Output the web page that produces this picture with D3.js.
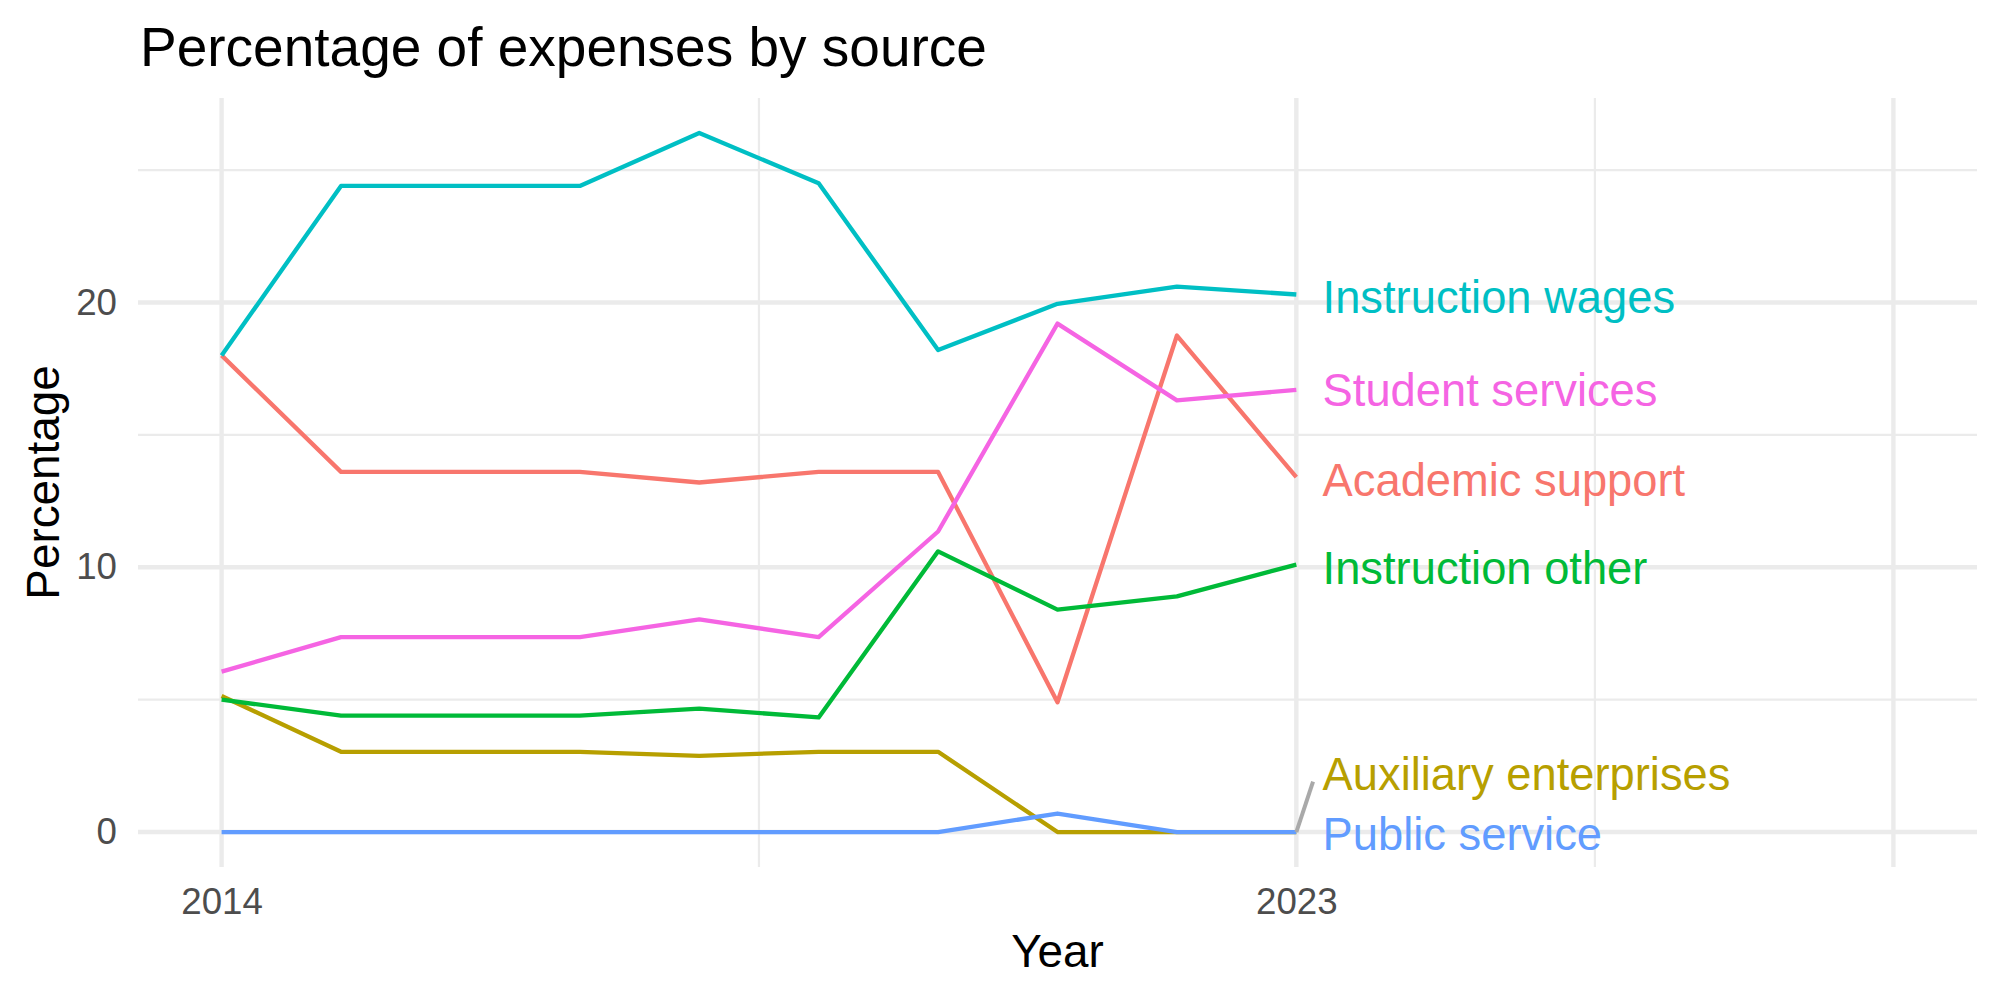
<!DOCTYPE html>
<html>
<head>
<meta charset="utf-8">
<script src="https://cdn.jsdelivr.net/npm/d3@7"></script>
<style>
  body { margin: 0; background: #fff; }
  svg text { font-family: "Liberation Sans", Arial, sans-serif; }
</style>
</head>
<body>
<svg id="chart" width="2000" height="1000"></svg>
<script>
const years = [2014, 2015, 2016, 2017, 2018, 2019, 2020, 2021, 2022, 2023]

const academicSupport = [18.0, 13.6, 13.6, 13.6, 13.2, 13.6, 13.6, 4.9, 18.75, 13.4]
const auxiliaryEnterprises = [5.14, 3.03, 3.03, 3.03, 2.88, 3.03, 3.03, 0, 0, 0]
const instructionOther = [5.0, 4.4, 4.4, 4.4, 4.66, 4.33, 10.6, 8.4, 8.9, 10.1]
const instructionWages = [18.0, 24.4, 24.4, 24.4, 26.4, 24.5, 18.2, 19.95, 20.6, 20.3]
const publicService = [0, 0, 0, 0, 0, 0, 0, 0.7, 0, 0]
const studentServices = [6.06, 7.36, 7.36, 7.36, 8.03, 7.36, 11.35, 19.2, 16.3, 16.7]

const seriesNames = ['Academic support', 'Auxiliary enterprises', 'Instruction other',
  'Instruction wages', 'Public service', 'Student services']
const seriesValues = [academicSupport, auxiliaryEnterprises, instructionOther,
  instructionWages, publicService, studentServices]
// where the repelled label ends up (in data units)
const labelY = [13.3, 2.2, 10.0, 20.2, -0.05, 16.7]

const xMajor = [2014, 2023, 2028]
const xMinor = [2018.5, 2025.5]
const xTickLabels = ['2014', '2023', '']
const yMajor = [0, 10, 20]
const yMinor = [5, 15, 25]
const yTickLabels = ['0', '10', '20']

const colors = ['#F8766D', '#B79F00', '#00BA38', '#00BFC4', '#619CFF', '#F564E3']

const panel = { left: 138, right: 1977, top: 98, bottom: 867 }
const svg = d3.select('#chart')

const xScale = d3.scaleLinear().domain([2013.3, 2028.7]).range([panel.left, panel.right])
const yScale = d3.scaleLinear().domain([-1.32, 27.72]).range([panel.bottom, panel.top])

// grid
const grid = svg.append('g').attr('class', 'grid')
grid.selectAll('.ymin').data(yMinor).join('line')
  .attr('x1', panel.left).attr('x2', panel.right)
  .attr('y1', d => yScale(d)).attr('y2', d => yScale(d))
  .attr('stroke', '#EBEBEB').attr('stroke-width', 2.2)
grid.selectAll('.xmin').data(xMinor).join('line')
  .attr('y1', panel.top).attr('y2', panel.bottom)
  .attr('x1', d => xScale(d)).attr('x2', d => xScale(d))
  .attr('stroke', '#EBEBEB').attr('stroke-width', 2.2)
grid.selectAll('.ymaj').data(yMajor).join('line')
  .attr('x1', panel.left).attr('x2', panel.right)
  .attr('y1', d => yScale(d)).attr('y2', d => yScale(d))
  .attr('stroke', '#EBEBEB').attr('stroke-width', 4.4)
grid.selectAll('.xmaj').data(xMajor).join('line')
  .attr('y1', panel.top).attr('y2', panel.bottom)
  .attr('x1', d => xScale(d)).attr('x2', d => xScale(d))
  .attr('stroke', '#EBEBEB').attr('stroke-width', 4.4)

// axes (labels only)
const xAxis = d3.axisBottom(xScale).tickValues(xMajor)
  .tickFormat((d, i) => xTickLabels[i]).tickSize(0).tickPadding(21)
svg.append('g').attr('transform', `translate(0,${panel.bottom})`).call(xAxis)
  .call(g => g.select('.domain').remove())
  .selectAll('text').attr('font-size', 36.7).attr('fill', '#4D4D4D')
    .style('font-family', '"Liberation Sans", Arial, sans-serif')

const yAxis = d3.axisLeft(yScale).tickValues(yMajor)
  .tickFormat((d, i) => yTickLabels[i]).tickSize(0).tickPadding(21)
svg.append('g').attr('transform', `translate(${panel.left},0)`).call(yAxis)
  .call(g => g.select('.domain').remove())
  .selectAll('text').attr('font-size', 36.7).attr('fill', '#4D4D4D')
    .style('font-family', '"Liberation Sans", Arial, sans-serif')

// lines
const line = d3.line().x((d, i) => xScale(years[i])).y(d => yScale(d))
svg.append('g').selectAll('path').data(seriesValues).join('path')
  .attr('d', d => line(d))
  .attr('fill', 'none')
  .attr('stroke', (d, i) => colors[i])
  .attr('stroke-width', 4.3)
  .attr('stroke-linejoin', 'round')

// repel segment for the auxiliary label
const lastYear = years[years.length - 1]
const labelX = lastYear + 0.22
svg.append('line')
  .attr('x1', xScale(lastYear)).attr('y1', yScale(auxiliaryEnterprises[auxiliaryEnterprises.length - 1]))
  .attr('x2', xScale(lastYear + 0.14)).attr('y2', yScale(labelY[1] - 0.3))
  .attr('stroke', '#A9A9A9').attr('stroke-width', 4)

// end labels
svg.append('g').selectAll('text').data(seriesNames).join('text')
  .attr('x', xScale(labelX))
  .attr('y', (d, i) => yScale(labelY[i]))
  .attr('dy', '0.36em')
  .attr('font-size', 45.3)
  .attr('fill', (d, i) => colors[i])
  .text(d => d)

// titles
svg.append('text').attr('x', 140).attr('y', 66)
  .attr('font-size', 55).attr('fill', '#000')
  .text('Percentage of expenses by source')

svg.append('text').attr('x', (panel.left + panel.right) / 2).attr('y', 967)
  .attr('text-anchor', 'middle').attr('font-size', 45.8).attr('fill', '#000')
  .text('Year')

svg.append('text')
  .attr('transform', `translate(59,${(panel.top + panel.bottom) / 2}) rotate(-90)`)
  .attr('text-anchor', 'middle').attr('font-size', 45.8).attr('fill', '#000')
  .text('Percentage')
</script>
</body>
</html>
